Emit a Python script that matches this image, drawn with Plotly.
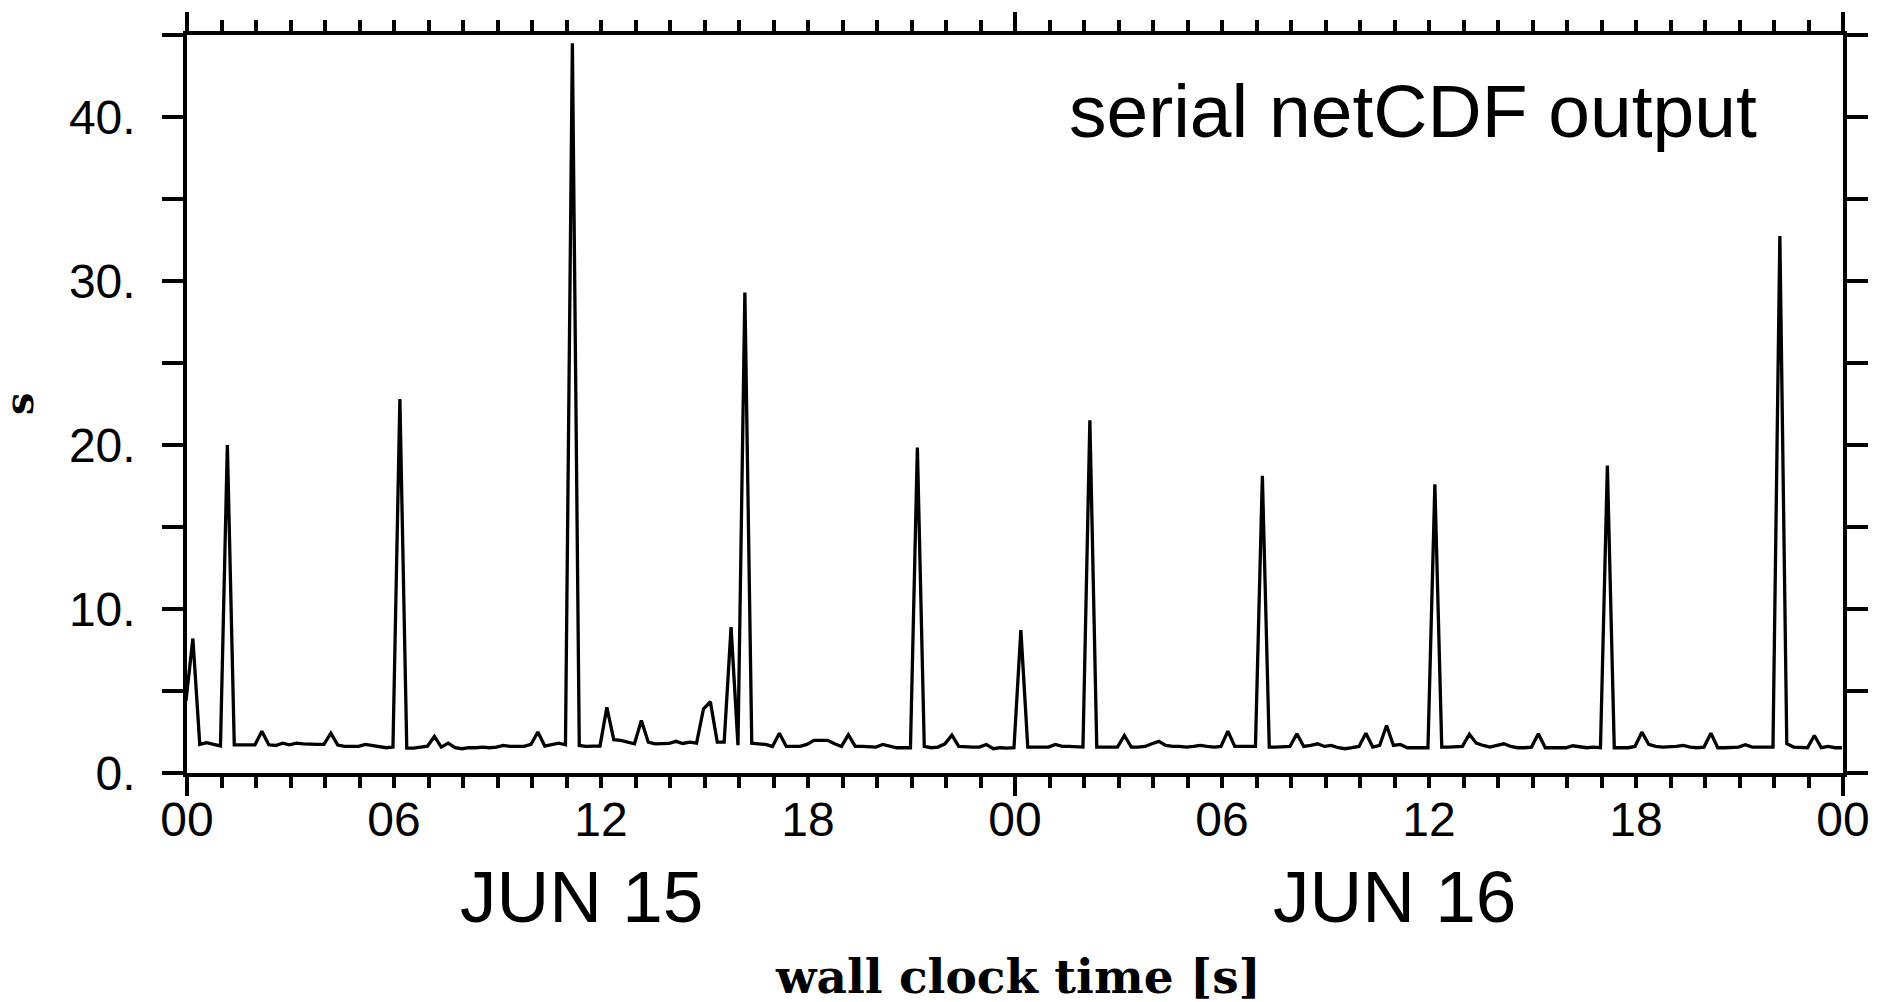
import plotly.graph_objects as go

# ---- data ----
# one sample every 0.2 h (12 min); hours counted from JUN 15 00:00
t_start = -0.03
t_step = 0.2
wall_clock_s = [
    4.4, 8.2, 1.74, 1.85, 1.74, 1.65, 20.0, 1.72, 1.72, 1.72,
    1.72, 2.55, 1.72, 1.68, 1.82, 1.72, 1.82, 1.78, 1.74, 1.74,
    1.74, 2.43, 1.70, 1.62, 1.62, 1.62, 1.74, 1.66, 1.58, 1.54,
    1.58, 22.8, 1.52, 1.52, 1.58, 1.64, 2.23, 1.58, 1.82, 1.54,
    1.48, 1.54, 1.54, 1.58, 1.54, 1.58, 1.68, 1.62, 1.62, 1.62,
    1.74, 2.50, 1.64, 1.72, 1.82, 1.72, 44.5, 1.68, 1.62, 1.64,
    1.64, 4.0, 2.03, 1.99, 1.88, 1.78, 3.2, 1.88, 1.78, 1.78,
    1.80, 1.93, 1.80, 1.88, 1.82, 3.9, 4.35, 1.88, 1.88, 8.9,
    1.70, 29.3, 1.82, 1.78, 1.74, 1.62, 2.43, 1.62, 1.62, 1.62,
    1.74, 1.99, 1.99, 1.99, 1.78, 1.62, 2.33, 1.62, 1.62, 1.62,
    1.58, 1.74, 1.62, 1.54, 1.54, 1.54, 19.85, 1.62, 1.54, 1.58,
    1.78, 2.31, 1.62, 1.58, 1.58, 1.58, 1.74, 1.48, 1.54, 1.52,
    1.54, 8.72, 1.58, 1.58, 1.58, 1.58, 1.74, 1.62, 1.62, 1.58,
    1.58, 21.5, 1.58, 1.58, 1.58, 1.58, 2.29, 1.58, 1.58, 1.62,
    1.78, 1.93, 1.68, 1.62, 1.62, 1.58, 1.62, 1.68, 1.62, 1.58,
    1.62, 2.55, 1.62, 1.62, 1.62, 1.62, 18.13, 1.58, 1.58, 1.58,
    1.62, 2.39, 1.62, 1.68, 1.78, 1.62, 1.68, 1.54, 1.48, 1.54,
    1.62, 2.43, 1.58, 1.68, 2.9, 1.68, 1.74, 1.54, 1.54, 1.54,
    1.54, 17.6, 1.58, 1.58, 1.58, 1.62, 2.36, 1.82, 1.68, 1.58,
    1.68, 1.78, 1.62, 1.54, 1.54, 1.58, 2.39, 1.54, 1.54, 1.54,
    1.54, 1.66, 1.62, 1.54, 1.58, 1.54, 18.74, 1.54, 1.54, 1.54,
    1.62, 2.49, 1.74, 1.62, 1.58, 1.58, 1.62, 1.68, 1.58, 1.54,
    1.58, 2.43, 1.54, 1.54, 1.58, 1.58, 1.72, 1.58, 1.58, 1.58,
    1.58, 32.75, 1.78, 1.58, 1.54, 1.54, 2.29, 1.54, 1.62, 1.54,
    1.54,
]
hours = [round(t_start + t_step * i, 3) for i in range(len(wall_clock_s))]

x_tick_vals = [0, 6, 12, 18, 24, 30, 36, 42, 48]
x_tick_text = ["00", "06", "12", "18", "00", "06", "12", "18", "00"]
day_tick_vals = [0, 24, 48]
day_labels = ["JUN 15", "JUN 16"]
day_label_pos = [11.44, 35.0]
y_tick_vals = [0, 5, 10, 15, 20, 25, 30, 35, 40, 45]
y_tick_text = ["0.", "", "10.", "", "20.", "", "30.", "", "40.", ""]

SANS = "Liberation Sans, Arial, sans-serif"
SERIF = "DejaVu Serif, serif"
AXW = 3.5

fig = go.Figure()
fig.add_trace(go.Scatter(
    x=hours, y=wall_clock_s, mode="lines",
    line=dict(color="black", width=3.3),
    showlegend=False, hoverinfo="skip",
))
# invisible helper trace so the overlay axis (long day ticks) is drawn
fig.add_trace(go.Scatter(
    x=[0], y=[0], xaxis="x2", mode="markers",
    marker=dict(opacity=0), showlegend=False, hoverinfo="skip",
))

# page body has an 8 px margin, so the figure is sized/offset accordingly
fig.update_layout(
    width=1875, height=994, autosize=False,
    margin=dict(l=179, r=40, t=24, b=229, pad=0),
    paper_bgcolor="white", plot_bgcolor="white",
    font=dict(family=SANS, size=48, color="black"),
    xaxis=dict(
        range=[0, 48], showgrid=False, zeroline=False,
        showline=True, linecolor="black", linewidth=AXW, mirror="ticks",
        tickmode="array", tickvals=x_tick_vals, ticktext=x_tick_text,
        ticks="outside", ticklen=11, tickwidth=AXW, tickcolor="black",
        ticklabelstandoff=-9,
        tickfont=dict(family=SANS, size=48, color="black"),
        minor=dict(dtick=1, ticks="outside", ticklen=11, tickwidth=AXW,
                   tickcolor="black", showgrid=False),
    ),
    xaxis2=dict(
        range=[0, 48], overlaying="x", side="bottom", anchor="y",
        showgrid=False, zeroline=False, showline=False, mirror="ticks",
        tickmode="array", tickvals=day_tick_vals,
        ticks="outside", ticklen=22, tickwidth=AXW, tickcolor="black",
        showticklabels=False,
    ),
    yaxis=dict(
        range=[0, 45], showgrid=False, zeroline=False,
        showline=True, linecolor="black", linewidth=AXW, mirror="ticks",
        tickmode="array", tickvals=y_tick_vals, ticktext=y_tick_text,
        ticks="outside", ticklen=21, tickwidth=AXW, tickcolor="black",
        ticklabelstandoff=17,
        tickfont=dict(family=SANS, size=48, color="black"),
    ),
)

annotations = [
    dict(text="serial netCDF output", xref="paper", yref="paper",
         x=(1759 - 187.3) / 1656, y=0.8974, xanchor="right", yanchor="middle",
         showarrow=False, font=dict(family=SANS, size=75, color="black")),
    dict(text="wall clock time [s]", xref="paper", yref="paper",
         x=0.5016, y=-0.2762, xanchor="center", yanchor="middle",
         showarrow=False,
         font=dict(family=SERIF, size=47, color="black", weight="bold")),
    dict(text="s", xref="paper", yref="paper",
         x=(19 - 187.3) / 1656, y=0.501, xanchor="center", yanchor="middle",
         textangle=-90, showarrow=False,
         font=dict(family=SERIF, size=40, color="black", weight="bold")),
]
for lab, pos in zip(day_labels, day_label_pos):
    annotations.append(dict(
        text=lab, xref="x", yref="paper", x=pos, y=-0.1669,
        xanchor="center", yanchor="middle", showarrow=False,
        font=dict(family=SANS, size=73, color="black")))
fig.update_layout(annotations=annotations)

fig.write_html("out.html")
